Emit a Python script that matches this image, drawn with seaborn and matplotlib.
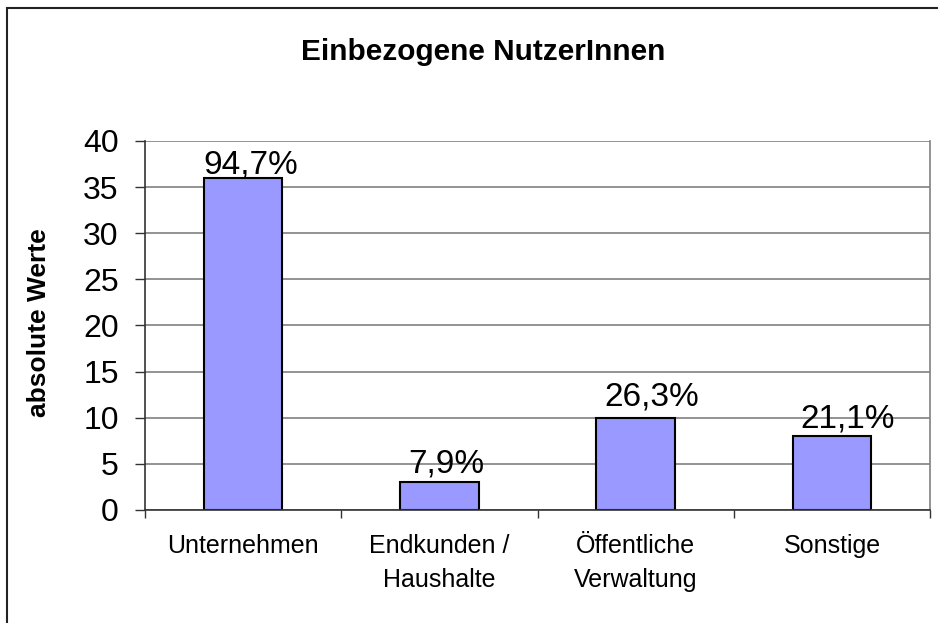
import pandas as pd
import matplotlib.pyplot as plt
import seaborn as sns
from matplotlib.patches import Rectangle

# data
categories = ["Unternehmen", "Endkunden /\nHaushalte", "Öffentliche\nVerwaltung", "Sonstige"]
values = [36, 3, 10, 8]
pct_labels = ["94,7%", "7,9%", "26,3%", "21,1%"]
y_ticks = [0, 5, 10, 15, 20, 25, 30, 35, 40]

# label nudges in points (excel placed them a bit off-centre)
label_dx = [5.4, 5, 11.5, 11]
label_dy = [3, 7, 8.5, 6]

sns.set_style("white")
plt.rcParams["font.family"] = ["Liberation Sans", "DejaVu Sans"]
plt.rcParams["text.color"] = "black"
plt.rcParams["xtick.color"] = "black"
plt.rcParams["ytick.color"] = "black"

df = pd.DataFrame({"kategorie": categories, "anzahl": values})

fig = plt.figure(figsize=(9.38, 6.23), dpi=100)
ax = fig.add_axes([0.1546, 0.1814, 0.8369, 0.5923])

sns.barplot(data=df, x="kategorie", y="anzahl", color="#9999FF", saturation=1,
            edgecolor="black", linewidth=1.5, width=0.4, ax=ax)

ax.set_xlim(-0.5, 3.5)
ax.set_ylim(0, 40)
ax.set_yticks(y_ticks)
ax.set_xlabel("")
ax.set_ylabel("")

# gridlines behind bars
ax.set_axisbelow(True)
ax.yaxis.grid(True, color="#808080", linewidth=1.2)

# spines like excel plot area
ax.spines["right"].set_color("#808080")
ax.spines["right"].set_linewidth(1.2)
ax.spines["top"].set_visible(False)
for side in ["left", "bottom"]:
    ax.spines[side].set_color("#333333")
    ax.spines[side].set_linewidth(1.2)

# ticks
ax.tick_params(axis="y", which="major", length=7, width=1, color="#333333",
               labelsize=23, pad=12, left=True, labelcolor="black")
ax.tick_params(axis="x", which="major", length=0, labelsize=18, pad=17, labelcolor="black")
ax.set_xticks([-0.5, 0.5, 1.5, 2.5, 3.5], minor=True)
ax.tick_params(axis="x", which="minor", length=6, width=1, color="#333333", bottom=True)
for lbl in ax.get_xticklabels():
    lbl.set_linespacing(1.55)

# percent labels on top of bars
for i, (v, txt) in enumerate(zip(values, pct_labels)):
    ax.annotate(txt, xy=(i, v), xytext=(label_dx[i], label_dy[i]), textcoords="offset points",
                ha="center", va="baseline", fontsize=24, color="black")

# title and y label
fig.text(0.515, 0.9165, "Einbezogene NutzerInnen", ha="center", va="center",
         fontsize=21.4, fontweight="bold", color="black")
fig.text(0.0416, 0.4815, "absolute Werte", ha="center", va="center",
         rotation=90, fontsize=19, fontweight="bold", color="black")

# outer chart frame
fig.patches.append(Rectangle((7 / 938, -0.05), 1.2, 0.9872 + 0.05,
                             transform=fig.transFigure, fill=False,
                             edgecolor="#222222", linewidth=1.5))

fig.savefig("out.png", dpi=100)
